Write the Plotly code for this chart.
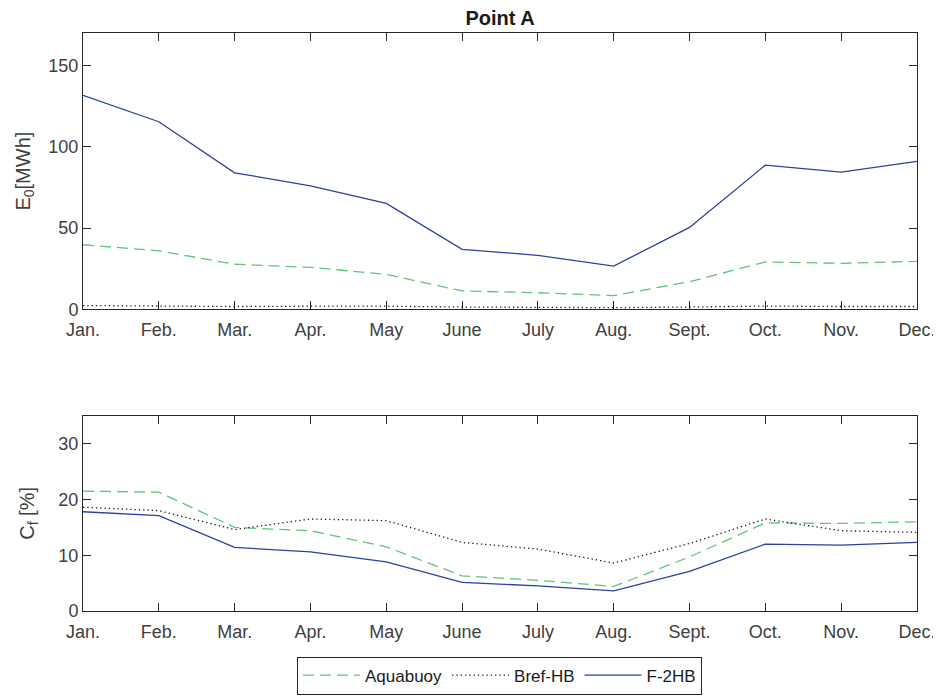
import plotly.graph_objects as go

months = ["Jan.", "Feb.", "Mar.", "Apr.", "May", "June", "July", "Aug.", "Sept.", "Oct.", "Nov.", "Dec."]

# Energy output E0 [MWh]
e0_aquabuoy = [39.7, 36.0, 27.7, 25.8, 21.5, 11.3, 10.2, 8.4, 17.0, 29.1, 28.3, 29.5]
e0_bref = [2.3, 2.0, 1.7, 1.9, 1.9, 1.4, 1.3, 1.0, 1.4, 2.0, 1.7, 1.7]
e0_f2hb = [131.6, 115.4, 84.0, 76.0, 65.2, 36.9, 33.2, 26.6, 50.4, 88.7, 84.4, 91.0]

# Capacity factor Cf [%]
cf_aquabuoy = [21.5, 21.3, 15.0, 14.4, 11.5, 6.3, 5.5, 4.4, 9.7, 15.8, 15.7, 16.0]
cf_bref = [18.6, 18.0, 14.6, 16.5, 16.2, 12.3, 11.1, 8.6, 12.1, 16.5, 14.4, 14.1]
cf_f2hb = [17.8, 17.1, 11.4, 10.6, 8.8, 5.15, 4.5, 3.6, 7.1, 12.0, 11.8, 12.3]

GREEN = "#5cc67a"
BLACK = "#1a1a1a"
BLUE = "#2b41a3"
FONT = "Liberation Sans, Arial, sans-serif"
AX = "#262626"
TXT = "#404040"

# page body has an 8px margin, so the figure is drawn 8px in from the window corner
OFF = 8
W, H = 941 - OFF, 697 - OFF
L, R, T, B = 83 - OFF, 917 - OFF, 33.3 - OFF, 610.7 - OFF
PH = B - T


def ydom(top_px, bot_px):
    top_px -= OFF
    bot_px -= OFF
    return [max(0, (B - bot_px) / PH), min(1, (B - top_px) / PH)]


fig = go.Figure()

series = [
    ("Aquabuoy", e0_aquabuoy, cf_aquabuoy, dict(color=GREEN, width=1.3, dash="11px,6px")),
    ("Bref-HB", e0_bref, cf_bref, dict(color=BLACK, width=1.3, dash="1.3px,3px")),
    ("F-2HB", e0_f2hb, cf_f2hb, dict(color=BLUE, width=1.3)),
]
for name, e0, cf, ln in series:
    fig.add_trace(go.Scatter(x=months, y=e0, mode="lines", name=name, line=ln,
                             xaxis="x", yaxis="y", showlegend=True))
    fig.add_trace(go.Scatter(x=months, y=cf, mode="lines", name=name, line=ln,
                             xaxis="x2", yaxis="y2", showlegend=False))

xcommon = dict(type="category", range=[0, 11], showline=True, linecolor=AX, linewidth=1,
               mirror="ticks", ticks="inside", ticklen=8, tickcolor=AX, showgrid=False,
               zeroline=False, tickfont=dict(size=18, color=TXT, family=FONT),
               ticklabelstandoff=4,
               automargin=False, categoryorder="array", categoryarray=months)
ycommon = dict(showline=True, linecolor=AX, linewidth=1, mirror="ticks", ticks="inside",
               ticklen=8, tickcolor=AX, showgrid=False, zeroline=False, automargin=False,
               tickfont=dict(size=18, color=TXT, family=FONT))

fig.update_layout(
    width=W, height=H,
    margin=dict(l=L, r=W - R, t=T, b=H - B, autoexpand=False),
    paper_bgcolor="white", plot_bgcolor="white",
    font=dict(family=FONT, color=TXT, size=18),
    title=dict(text="<b>Point A</b>", x=(L + R) / 2 / W, xanchor="center", xref="container",
               y=1 - (17.5 - OFF) / H, yanchor="middle", yref="container", automargin=False,
               font=dict(size=20, color="#1a1a1a", family=FONT)),
    xaxis=dict(xcommon, anchor="y"),
    yaxis=dict(ycommon, anchor="x", range=[0, 170], tickvals=[0, 50, 100, 150],
               domain=ydom(33.3, 309.3),
               title=dict(text="E<sub>0</sub>[MWh]", font=dict(size=20, color=TXT, family=FONT),
                          standoff=12)),
    xaxis2=dict(xcommon, anchor="y2"),
    yaxis2=dict(ycommon, anchor="x2", range=[0, 35], tickvals=[0, 10, 20, 30],
                domain=ydom(415.7, 610.7),
                title=dict(text="C<sub>f</sub> [%]", font=dict(size=20, color=TXT, family=FONT),
                           standoff=18)),
    legend=dict(orientation="h", x=(0.5 * (296 + 703) - OFF) / W, xanchor="center", xref="container",
                y=1 - (675.5 - OFF) / H, yanchor="middle", yref="container",
                bordercolor=AX, borderwidth=1, bgcolor="white",
                font=dict(size=17, color="#1a1a1a", family=FONT),
                itemwidth=57, tracegroupgap=0),
)

fig.write_html("out.html")
